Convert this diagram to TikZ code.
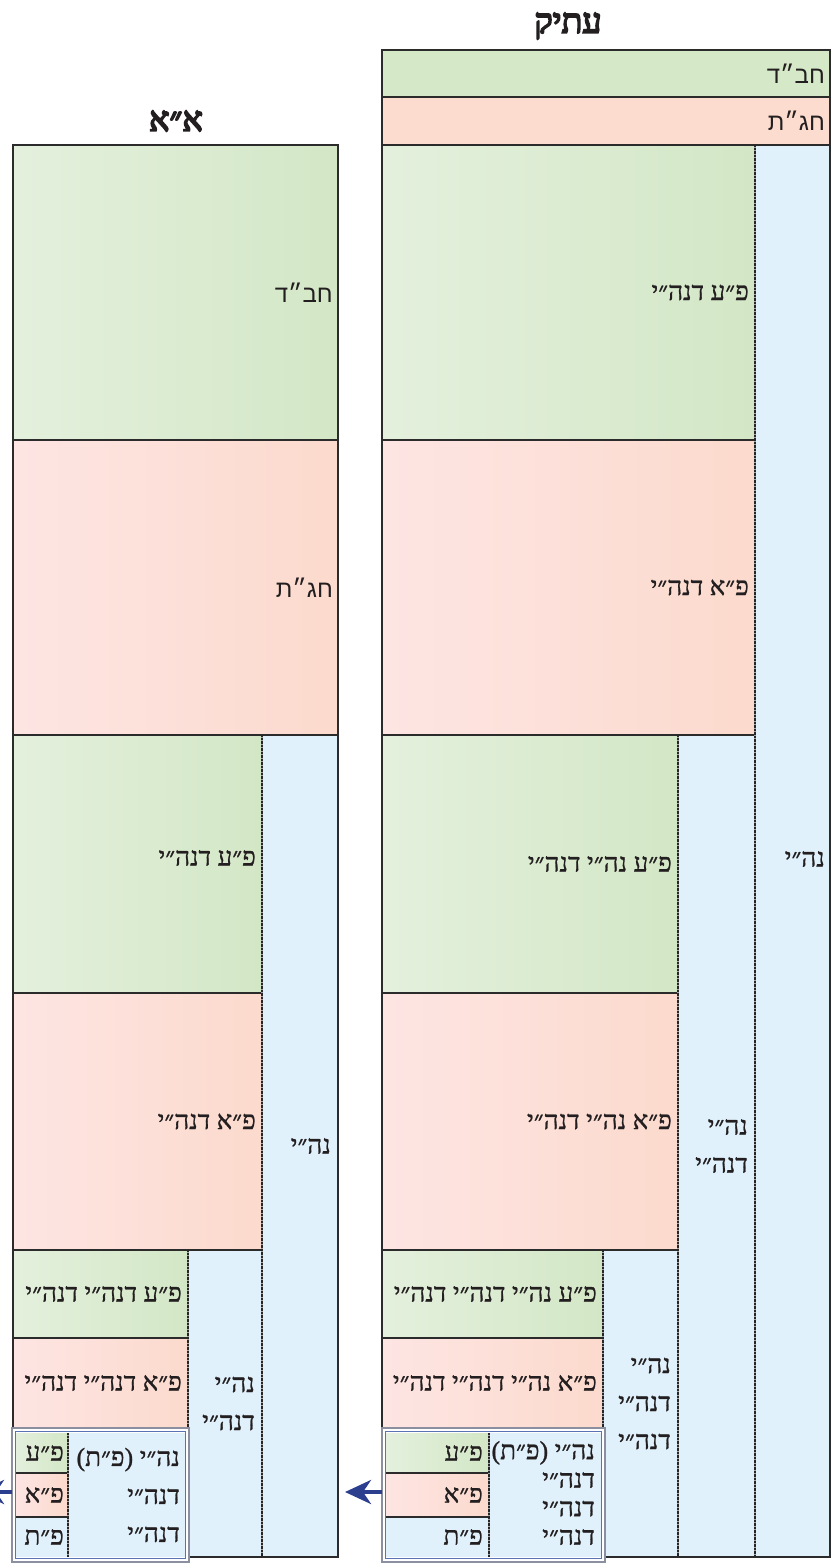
\documentclass[tikz,border=0pt]{standalone}
\usepackage{fontspec}
\usetikzlibrary{arrows.meta}
\TeXXeTstate=1
\newfontfamily\hebserif[Script=Hebrew,FakeBold=1.0]{Liberation Serif}
\newfontfamily\hebtitle[Script=Hebrew,FakeBold=5]{Liberation Serif}
\newfontfamily\hebsans[Script=Hebrew]{Liberation Sans}
\newcommand{\heb}[1]{\beginR #1\endR}
\definecolor{ink}{HTML}{231F20}
\definecolor{grnL}{HTML}{E4F0DD}
\definecolor{grnR}{HTML}{D3E7C6}
\definecolor{grnS}{HTML}{D5E8C8}
\definecolor{pnkL}{HTML}{FDE5E3}
\definecolor{pnkR}{HTML}{FCDACD}
\definecolor{pnkS}{HTML}{FCDCCF}
\definecolor{blu}{HTML}{E0F1FC}
\definecolor{rule}{HTML}{2B2B2B}
\definecolor{arrowblue}{HTML}{2B3F8E}
\definecolor{frameout}{HTML}{8C8FA0}
\definecolor{framein}{HTML}{5B73B5}
\newcommand\mkcell[6]{%
  \node[cellbase,#6,minimum width={(#4-#2)*1pt},minimum height={(#5-#3)*1pt}]
    (#1) at ({(#2+#4)/2},{(#3+#5)/2}) {};}
\tikzset{
  cellbase/.style={inner sep=0pt,outer sep=0pt,draw=none,rectangle},
  green/.style={left color=grnL,right color=grnR},
  greensolid/.style={fill=grnS},
  pink/.style={left color=pnkL,right color=pnkR},
  pinksolid/.style={fill=pnkS},
  blue/.style={fill=blu},
  lbl/.style={font=\hebserif\fontsize{26}{38}\selectfont,text=ink,anchor=east,inner sep=0pt,align=right},
  lbltight/.style={font=\hebserif\fontsize{26}{28.5}\selectfont,text=ink,anchor=east,inner sep=0pt,align=right},
  hdr/.style={font=\hebsans\fontsize{24}{28}\selectfont,text=ink,anchor=east,inner sep=0pt},
  title/.style={font=\hebtitle\fontsize{34}{40}\selectfont,text=ink,inner sep=0pt},
  hrule/.style={draw=rule,line width=2.4pt},
  dsep/.style={draw=gray!70,line width=2.6pt},
  dsepd/.style={draw=black!85,line width=2.6pt,dash pattern=on 0.7pt off 0.7pt},
  outer/.style={draw=rule,line width=2.8pt},
  arrowline/.style={draw=arrowblue,line width=4pt,-{Stealth[length=26pt,width=24pt,inset=8pt]}},
}
\begin{document}
\begin{tikzpicture}[x=1pt,y=-1pt]
\useasboundingbox (0,0) rectangle (839,1564);
\fill[white] (0,0) rectangle (839,1564);

% ===== Right column (Atik) =====
\node[title] (tAtik) at (568,26) {\heb{עתיק}};
\mkcell{rH1}{382}{50}{830}{97}{greensolid}
\mkcell{rH2}{382}{97}{830}{145}{pinksolid}
\mkcell{rS1}{755}{145}{830}{1557}{blue}
\mkcell{rA}{382}{145}{755}{440}{green}
\mkcell{rB}{382}{440}{755}{735}{pink}
\mkcell{rS2}{678}{735}{755}{1557}{blue}
\mkcell{rC}{382}{735}{678}{993}{green}
\mkcell{rD}{382}{993}{678}{1250}{pink}
\mkcell{rS3}{603}{1250}{678}{1557}{blue}
\mkcell{rE}{382}{1250}{603}{1338}{green}
\mkcell{rF}{382}{1338}{603}{1428}{pink}

% ===== Left column (A"A) =====
\node[title] (tAA) at (176,121) {\heb{א״א}};
\mkcell{lA}{13}{145}{338}{440}{green}
\mkcell{lB}{13}{440}{338}{735}{pink}
\mkcell{lS1}{262}{735}{338}{1557}{blue}
\mkcell{lC}{13}{735}{262}{993}{green}
\mkcell{lD}{13}{993}{262}{1250}{pink}
\mkcell{lS2}{188}{1250}{262}{1557}{blue}
\mkcell{lE}{13}{1250}{188}{1338}{green}
\mkcell{lF}{13}{1338}{188}{1428}{pink}

% horizontal rules
\draw[hrule] (382,97) -- (830,97);
\draw[hrule] (382,145) -- (830,145);
\draw[hrule] (382,440) -- (755,440);
\draw[hrule] (382,735) -- (755,735);
\draw[hrule] (382,993) -- (678,993);
\draw[hrule] (382,1250) -- (678,1250);
\draw[hrule] (382,1338) -- (603,1338);
\draw[hrule] (13,440) -- (338,440);
\draw[hrule] (13,735) -- (338,735);
\draw[hrule] (13,993) -- (262,993);
\draw[hrule] (13,1250) -- (262,1250);
\draw[hrule] (13,1338) -- (188,1338);

% dotted separators
\foreach \x/\ya/\yb in {755/145/1557, 678/735/1557, 603/1250/1428, 262/735/1557, 188/1250/1428}{
  \draw[dsep] (\x,\ya) -- (\x,\yb);
  \draw[dsepd] (\x,\ya) -- (\x,\yb);
}

% outer borders
\draw[outer] (382,50) rectangle (830,1557);
\draw[outer] (13,145) rectangle (338,1557);

% ===== Insets =====
% right inset
\fill[white] (381,1427) rectangle (606,1563);
\node[cellbase,minimum width=223pt,minimum height=134pt] (rIn) at (493.5,1495) {};
\mkcell{rInT}{386}{1433}{489}{1473}{green}
\mkcell{rInA}{386}{1473}{489}{1517}{pink}
\mkcell{rInP}{386}{1517}{489}{1557}{blue}
\mkcell{rInR}{489}{1433}{601}{1557}{blue}
\draw[hrule] (386,1473) -- (489,1473);
\draw[hrule] (386,1517) -- (489,1517);
\draw[dsep] (489,1433) -- (489,1557);
\draw[dsepd] (489,1433) -- (489,1557);
\draw[frameout,line width=1.4pt] (382,1428) rectangle (605,1562);
\draw[framein,line width=1.4pt] (385.5,1431.5) rectangle (601.5,1558.5);

% left inset
\fill[white] (11,1427) rectangle (190,1563);
\node[cellbase,minimum width=177pt,minimum height=134pt] (lIn) at (100.5,1495) {};
\mkcell{lInT}{15}{1433}{68}{1473}{green}
\mkcell{lInA}{15}{1473}{68}{1517}{pink}
\mkcell{lInP}{15}{1517}{68}{1557}{blue}
\mkcell{lInR}{68}{1433}{186}{1557}{blue}
\draw[hrule] (15,1473) -- (68,1473);
\draw[hrule] (15,1517) -- (68,1517);
\draw[dsep] (68,1433) -- (68,1557);
\draw[dsepd] (68,1433) -- (68,1557);
\draw[frameout,line width=1.4pt] (12,1428) rectangle (189,1562);
\draw[framein,line width=1.4pt] (15.5,1431.5) rectangle (185.5,1558.5);

% ===== Labels =====
\node[hdr] (rH1t) at ([xshift=-5pt]rH1.east) {\heb{חב״ד}};
\node[hdr] (rH2t) at ([xshift=-5pt]rH2.east) {\heb{חג״ת}};
\node[lbl] (rS1t) at ([xshift=-5pt,yshift=-8pt]rS1.east) {\heb{נה״י}};
\node[lbl] (rAt) at ([xshift=-6pt]rA.east) {\heb{פ״ע דנה״י}};
\node[lbl] (rBt) at ([xshift=-6pt]rB.east) {\heb{פ״א דנה״י}};
\node[lbl] (rS2t) at ([xshift=-7pt]rS2.east) {\heb{נה״י}\\\heb{דנה״י}};
\node[lbl] (rCt) at ([xshift=-6pt]rC.east) {\heb{פ״ע נה״י דנה״י}};
\node[lbl] (rDt) at ([xshift=-6pt]rD.east) {\heb{פ״א נה״י דנה״י}};
\node[lbl] (rS3t) at ([xshift=-7pt]rS3.east) {\heb{נה״י}\\\heb{דנה״י}\\\heb{דנה״י}};
\node[lbl] (rEt) at ([xshift=-6pt]rE.east) {\heb{פ״ע נה״י דנה״י דנה״י}};
\node[lbl] (rFt) at ([xshift=-6pt]rF.east) {\heb{פ״א נה״י דנה״י דנה״י}};
\node[lbl] (rInTt) at ([xshift=-6pt]rInT.east) {\heb{פ״ע}};
\node[lbl] (rInAt) at ([xshift=-6pt]rInA.east) {\heb{פ״א}};
\node[lbl] (rInPt) at ([xshift=-6pt]rInP.east) {\heb{פ״ת}};
\node[lbltight] (rInRt) at ([xshift=-6pt,yshift=2pt]rInR.east) {\heb{נה״י (פ״ת)}\\\heb{דנה״י}\\\heb{דנה״י}\\\heb{דנה״י}};

\node[hdr] (lAt) at ([xshift=-5pt]lA.east) {\heb{חב״ד}};
\node[hdr] (lBt) at ([xshift=-5pt]lB.east) {\heb{חג״ת}};
\node[lbl] (lS1t) at ([xshift=-7pt]lS1.east) {\heb{נה״י}};
\node[lbl] (lCt) at ([xshift=-6pt,yshift=6pt]lC.east) {\heb{פ״ע דנה״י}};
\node[lbl] (lDt) at ([xshift=-6pt]lD.east) {\heb{פ״א דנה״י}};
\node[lbl] (lS2t) at ([xshift=-7pt]lS2.east) {\heb{נה״י}\\\heb{דנה״י}};
\node[lbl] (lEt) at ([xshift=-6pt]lE.east) {\heb{פ״ע דנה״י דנה״י}};
\node[lbl] (lFt) at ([xshift=-6pt]lF.east) {\heb{פ״א דנה״י דנה״י}};
\node[lbl] (lInTt) at ([xshift=-4pt]lInT.east) {\heb{פ״ע}};
\node[lbl] (lInAt) at ([xshift=-4pt]lInA.east) {\heb{פ״א}};
\node[lbl] (lInPt) at ([xshift=-4pt]lInP.east) {\heb{פ״ת}};
\node[lbl] (lInRt) at ([xshift=-6pt]lInR.east) {\heb{נה״י (פ״ת)}\\\heb{דנה״י}\\\heb{דנה״י}};

% ===== Arrows =====
\coordinate (rTip) at (345,1492);
\coordinate (lTip) at (-22,1492);
\draw[arrowline] (rIn.west |- rTip) -- (rTip);
\draw[arrowline] (lIn.west |- lTip) -- (lTip);
\end{tikzpicture}
\end{document}
